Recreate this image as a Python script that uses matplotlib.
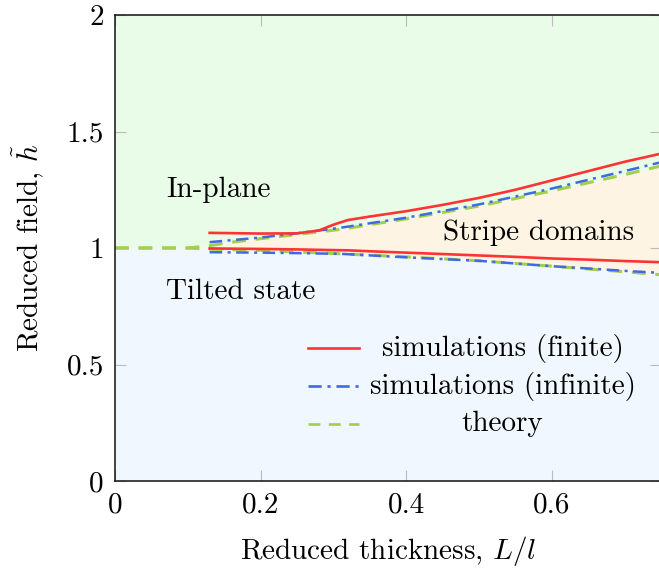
import matplotlib
matplotlib.use("Agg")
import matplotlib.pyplot as plt
from matplotlib.lines import Line2D
import numpy as np

plt.rcParams["font.family"] = "cmr10"
plt.rcParams["mathtext.fontset"] = "cm"
plt.rcParams["axes.formatter.use_mathtext"] = True

# phase boundaries, reduced field h vs reduced thickness L/l
fin_x = [0.13, 0.2, 0.25, 0.28, 0.30, 0.32, 0.35, 0.4, 0.45, 0.5, 0.55, 0.6, 0.65, 0.7, 0.75]
fin_up = [1.065, 1.062, 1.063, 1.075, 1.10, 1.12, 1.135, 1.158, 1.185, 1.215, 1.25, 1.29, 1.33, 1.37, 1.405]
fin_lo = [0.998, 0.996, 0.994, 0.992, 0.991, 0.99, 0.986, 0.98, 0.974, 0.968, 0.962, 0.955, 0.95, 0.944, 0.939]

inf_x = [0.13, 0.2, 0.25, 0.31, 0.4, 0.5, 0.6, 0.7, 0.75]
inf_up = [1.025, 1.045, 1.063, 1.087, 1.13, 1.187, 1.255, 1.33, 1.368]
inf_lo = [0.982, 0.98, 0.978, 0.975, 0.96, 0.945, 0.922, 0.902, 0.893]

th_x = [0.0, 0.1, 0.13, 0.16, 0.2, 0.31, 0.4, 0.5, 0.6, 0.7, 0.75]
th_up = [1.0, 1.0, 1.01, 1.025, 1.04, 1.08, 1.125, 1.18, 1.245, 1.315, 1.352]
th_lo = [1.0, 1.0, 0.995, 0.993, 0.99, 0.975, 0.962, 0.945, 0.922, 0.898, 0.885]

RED = "#ff3333"
BLUE = "#4169e1"
GREEN = "#a3cf4c"
DASHDOT = (0, (5, 2.2, 1.2, 2.2))
DASHED = (0, (4.5, 3.2))

fig = plt.figure(figsize=(6.59, 5.72), dpi=100)
ax = fig.add_axes([115 / 659, 91 / 572, 546 / 659, 466 / 572])

xmax, ymax = 0.75, 2.0
ax.set_xlim(0, xmax)
ax.set_ylim(0, ymax)

# shaded phase regions from the theory curves
tx = np.array(th_x + [xmax])
tu = np.array(th_up + [th_up[-1]])
tl = np.array(th_lo + [th_lo[-1]])
ax.fill_between(tx, tu, ymax, color="#e9fce8", lw=0, zorder=0)
ax.fill_between(tx, tl, tu, color="#fdf4e3", lw=0, zorder=0)
ax.fill_between(tx, 0, tl, color="#f0f7fe", lw=0, zorder=0)

ax.plot(th_x, th_up, color=GREEN, lw=2.2, ls=DASHED, zorder=2)
ax.plot(th_x, th_lo, color=GREEN, lw=2.2, ls=DASHED, zorder=2)
ax.plot(inf_x, inf_up, color=BLUE, lw=1.8, ls=DASHDOT, zorder=3)
ax.plot(inf_x, inf_lo, color=BLUE, lw=1.8, ls=DASHDOT, zorder=3)
ax.plot(fin_x, fin_up, color=RED, lw=1.9, zorder=4)
ax.plot(fin_x, fin_lo, color=RED, lw=1.9, zorder=4)

fs = 21
ax.text(0.07, 1.25, "In-plane", fontsize=fs, va="center")
ax.text(0.07, 0.81, "Tilted state", fontsize=fs, va="center")
ax.text(0.45, 1.065, "Stripe domains", fontsize=fs, va="center")

# legend rows: sample line then centred label
legend_rows = [
    ("simulations (finite)", RED, "-"),
    ("simulations (infinite)", BLUE, DASHDOT),
    ("theory", GREEN, DASHED),
]
for i, (label, col, ls) in enumerate(legend_rows):
    yy = 0.285 - i * 0.0815
    ax.add_line(Line2D([0.353, 0.447], [yy, yy], transform=ax.transAxes,
                       color=col, ls=ls, lw=1.9))
    ax.text(0.71, yy, label, transform=ax.transAxes, fontsize=fs,
            ha="center", va="center")

ax.set_xticks([0, 0.2, 0.4, 0.6])
ax.set_xticklabels(["0", "0.2", "0.4", "0.6"])
ax.set_yticks([0, 0.5, 1, 1.5, 2])
ax.set_yticklabels(["0", "0.5", "1", "1.5", "2"])
ax.tick_params(direction="in", length=8, width=0.8, color="#bbbbbb",
               labelsize=fs, top=True, right=True, pad=8)
for s in ax.spines.values():
    s.set_color("#222222")
    s.set_linewidth(1.2)

ax.set_xlabel("Reduced thickness, $L/l$", fontsize=fs, labelpad=11)
ax.set_ylabel(r"Reduced field, $\tilde{h}$", fontsize=fs, labelpad=14)

fig.savefig("out.png", dpi=100)
